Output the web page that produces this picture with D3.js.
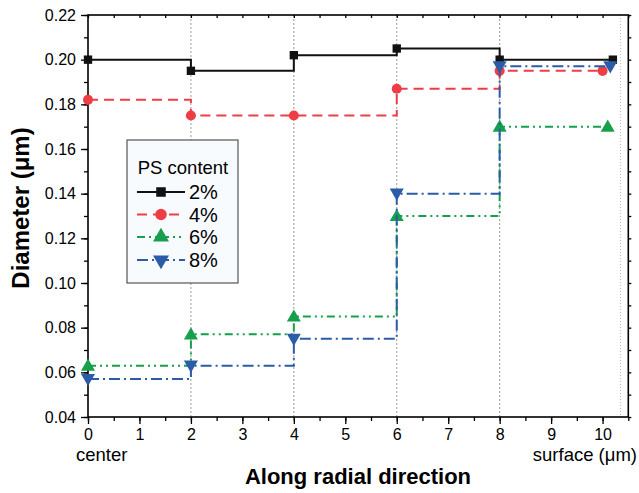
<!DOCTYPE html>
<html><head><meta charset="utf-8">
<script src="https://cdn.jsdelivr.net/npm/d3@7"></script>
<style>body{margin:0;background:#fff}svg{display:block;font-family:"Liberation Sans",Arial,sans-serif}</style>
</head><body><svg id="c" width="639" height="493"></svg>
<script>
const positions = [0, 2, 4, 6, 8];
const seriesNames = ["2%", "4%", "6%", "8%"];
const endPos = [10.2, 10.0, 10.1, 10.15];
const d2 = [0.200, 0.195, 0.202, 0.205, 0.200, 0.200];
const d4 = [0.182, 0.175, 0.175, 0.187, 0.195, 0.195];
const d6 = [0.063, 0.077, 0.085, 0.130, 0.170, 0.170];
const d8 = [0.057, 0.063, 0.075, 0.140, 0.197, 0.197];
const xTicks = [0,1,2,3,4,5,6,7,8,9,10];
const yTicks = [0.04,0.06,0.08,0.10,0.12,0.14,0.16,0.18,0.20,0.22];
const guideLines = [2, 4, 6, 8];
const surfaceLine = 10.35;

const colors = ["#111111", "#ee3e45", "#16a04c", "#2a5ca8"];
const dashes = [null, "10,6", "8,4,2,4,2,4", "11,4,2,4"];
const shapes = [d3.symbolSquare, d3.symbolCircle, d3.symbolTriangle, d3.symbolTriangle];
const symSizes = [70, 80, 85, 85];
const rot = [0, 0, 0, 180];
const allData = [d2, d4, d6, d8];

const svg = d3.select("#c");
const m = {l: 88, r: 628.3, t: 15, b: 417};
const x = d3.scaleLinear().domain([0, 10.5]).range([m.l, m.r]);
const y = d3.scaleLinear().domain([0.04, 0.22]).range([m.b, m.t]);

// guide lines
svg.selectAll("line.g").data(guideLines).join("line")
  .attr("x1", d => x(d)).attr("x2", d => x(d)).attr("y1", m.t).attr("y2", m.b)
  .attr("stroke", "#999").attr("stroke-width", 1).attr("stroke-dasharray", "2,2");
svg.append("line").attr("x1", x(surfaceLine)).attr("x2", x(surfaceLine)).attr("y1", m.t).attr("y2", m.b)
  .attr("stroke", "#bbb").attr("stroke-width", 1).attr("stroke-dasharray", "1,2");

// axes
const minorX = d3.range(0, 10.51, 0.5);
const minorY = d3.range(0.04, 0.2201, 0.01);
function styleAxis(g){ g.select(".domain").remove(); g.selectAll("line").attr("stroke","#000").attr("stroke-width",1.3); }
svg.append("g").attr("transform", `translate(0,${m.b})`)
  .call(d3.axisBottom(x).tickValues(minorX).tickSize(4).tickFormat("")).call(styleAxis);
svg.append("g").attr("transform", `translate(0,${m.b})`)
  .call(d3.axisBottom(x).tickValues(xTicks).tickSize(7).tickPadding(5).tickFormat(d3.format("d")))
  .call(styleAxis).call(g => g.selectAll("text").attr("font-size", 16).attr("fill", "#000"));
svg.append("g").attr("transform", `translate(${m.l},0)`)
  .call(d3.axisLeft(y).tickValues(minorY).tickSize(4).tickFormat("")).call(styleAxis);
svg.append("g").attr("transform", `translate(${m.l},0)`)
  .call(d3.axisLeft(y).tickValues(yTicks).tickSize(7).tickPadding(5).tickFormat(d3.format(".2f")))
  .call(styleAxis).call(g => g.selectAll("text").attr("font-size", 16).attr("fill", "#000"));
svg.append("g").attr("transform", `translate(0,${m.t})`)
  .call(d3.axisBottom(x).tickValues(minorX).tickSize(3).tickFormat("")).call(styleAxis);
svg.append("g").attr("transform", `translate(${m.r},0)`)
  .call(d3.axisRight(y).tickValues(minorY).tickSize(3).tickFormat("")).call(styleAxis);
svg.append("rect").attr("x", m.l).attr("y", m.t).attr("width", m.r - m.l).attr("height", m.b - m.t)
  .attr("fill", "none").attr("stroke", "#000").attr("stroke-width", 1.6);

// series
const line = d3.line().x(d => x(d[0])).y(d => y(d[1])).curve(d3.curveStepAfter);
allData.forEach((vals, i) => {
  const pts = positions.map((p, j) => [p, vals[j]]);
  pts.push([endPos[i], vals[positions.length]]);
  svg.append("path").datum(pts).attr("d", line).attr("fill", "none")
    .attr("stroke", colors[i]).attr("stroke-width", 2)
    .attr("stroke-dasharray", dashes[i]);
  svg.selectAll(null).data(pts).join("path")
    .attr("d", d3.symbol().type(shapes[i]).size(symSizes[i]))
    .attr("transform", d => `translate(${x(d[0])},${y(d[1]) + (rot[i] ? -1 : (i === 2 ? 1 : 0))}) rotate(${rot[i]})`)
    .attr("fill", colors[i]);
});

// legend
const lg = svg.append("g");
lg.append("rect").attr("x", 127).attr("y", 140).attr("width", 111).attr("height", 143)
  .attr("fill", "#f8fbfe").attr("stroke", "#555").attr("stroke-width", 1.2);
lg.append("text").attr("x", 183).attr("y", 174).attr("text-anchor", "middle")
  .attr("font-size", 18.5).text("PS content");
const rowY = [192, 214.5, 237, 260];
seriesNames.forEach((n, i) => {
  lg.append("line").attr("x1", 137).attr("x2", 185).attr("y1", rowY[i]).attr("y2", rowY[i])
    .attr("stroke", colors[i]).attr("stroke-width", 2).attr("stroke-dasharray", dashes[i]);
  lg.append("path").attr("d", d3.symbol().type(shapes[i]).size(symSizes[i] * 1.3))
    .attr("transform", `translate(161,${rowY[i]}) rotate(${rot[i]})`).attr("fill", colors[i]);
  lg.append("text").attr("x", 189).attr("y", rowY[i] + 7).attr("font-size", 20).text(n);
});

// labels
svg.append("text").attr("x", 76).attr("y", 461).attr("font-size", 18.5).text("center");
svg.append("text").attr("x", 637).attr("y", 461).attr("text-anchor", "end").attr("font-size", 18.5).text("surface (μm)");
svg.append("text").attr("x", 358).attr("y", 484).attr("text-anchor", "middle")
  .attr("font-size", 22).attr("font-weight", "bold").text("Along radial direction");
svg.append("text").attr("transform", "translate(29,208) rotate(-90)").attr("text-anchor", "middle")
  .attr("font-size", 24).attr("font-weight", "bold").text("Diameter (μm)");
</script></body></html>
